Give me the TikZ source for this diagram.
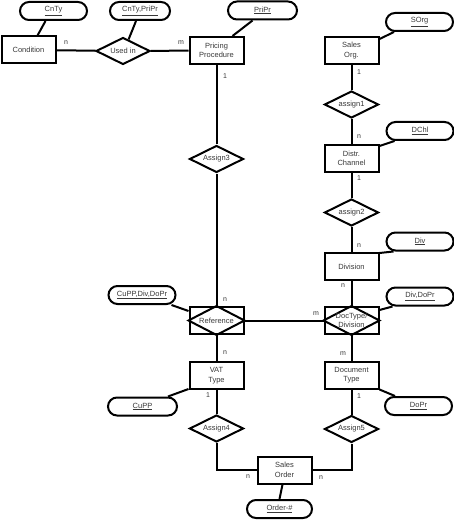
\documentclass[tikz,border=0pt]{standalone}
\usepackage{fontspec}
\setmainfont{Liberation Sans}
\usetikzlibrary{shapes.geometric,calc}
\colorlet{txt}{black!78}
\tikzset{
  every node/.style={text=txt, font=\fontsize{7.5}{9.5}\selectfont},
  conn/.style={line width=2pt, draw=black},
  entity/.style={draw=black, line width=2pt, minimum width=54pt, minimum height=27pt, inner sep=0pt, align=center},
  attr/.style={draw=black, line width=2pt, rounded corners=9pt, minimum width=67pt, minimum height=18pt, inner sep=0pt},
  rel/.style={diamond, draw=black, line width=2pt, minimum width=54pt, minimum height=27pt, inner sep=0pt, shape aspect=2},
  card/.style={font=\fontsize{7}{8}\selectfont, inner sep=0pt}
}
\begin{document}
\begin{tikzpicture}[x=1pt,y=-1pt]
\useasboundingbox (0,0) rectangle (454,521);
% entities
\node[entity] (cond) at (28.5,50) {Condition};
\node[entity] (pp) at (216.5,50.5) {Pricing\\Procedure};
\node[entity] (so) at (351.5,50.5) {Sales\\Org.};
\node[entity] (dc) at (351.5,158.5) {Distr.\\Channel};
\node[entity] (div) at (351.5,266.5) {Division};
\node[entity] (dtd) at (351.5,320.5) {};
\node[entity] (ref) at (216.5,320.5) {};
\node[entity] (dt) at (351.5,375) {Document\\Type};
\node[entity] (vat) at (216.5,375.5) {VAT\\Type};
\node[entity] (sorder) at (284.5,470) {Sales\\Order};
% diamonds inside boxes
\draw[conn] (ref.north) -- (ref.east) -- (ref.south) -- (ref.west) -- cycle;
\draw[conn] (dtd.north) -- (dtd.east) -- (dtd.south) -- (dtd.west) -- cycle;
\node[align=center, inner sep=0pt] (reft) at (ref.center) {Reference};
\node[align=center, inner sep=0pt] (dtdt) at (dtd.center) {DocType/\\Division};
% relationships
\node[rel] (usedin) at (123,51) {Used in};
\node[rel] (as1) at (351.5,104.5) {assign1};
\node[rel] (as2) at (351.5,212.5) {assign2};
\node[rel] (as3) at (216.5,159) {Assign3};
\node[rel] (as4) at (216.5,428.5) {Assign4};
\node[rel] (as5) at (351.5,429) {Assign5};
% attributes
\node[attr] (cnty) at (53.5,11) {\underline{CnTy}};
\node[attr, minimum width=60pt] (cnpr) at (140,11) {\underline{CnTy,PriPr}};
\node[attr, minimum width=69pt] (pripr) at (262.5,10.5) {\underline{PriPr}};
\node[attr] (sorg) at (419.5,22) {\underline{SOrg}};
\node[attr] (dchl) at (420,131) {\underline{DChl}};
\node[attr] (divk) at (420,241.5) {\underline{Div}};
\node[attr] (divdopr) at (420,296.5) {\underline{Div,DoPr}};
\node[attr] (cdd) at (142,295) {\underline{CuPP,Div,DoPr}};
\node[attr, minimum width=69pt] (cupp) at (142.5,406.5) {\underline{CuPP}};
\node[attr] (dopr) at (418.5,406) {\underline{DoPr}};
\node[attr, minimum width=65pt] (ordno) at (279.5,509) {\underline{Order-\#}};
% relationship connectors
\draw[conn] (cond) -- (usedin);
\draw[conn] (usedin) -- (pp);
\draw[conn] (pp) -- (as3);
\draw[conn] (as3) -- (ref);
\draw[conn] (so) -- (as1);
\draw[conn] (as1) -- (dc);
\draw[conn] (dc) -- (as2);
\draw[conn] (as2) -- (div);
\draw[conn] (div) -- (dtd);
\draw[conn] (ref) -- (dtd);
\draw[conn] (ref) -- (vat);
\draw[conn] (dtd) -- (dt);
\draw[conn] (vat) -- (as4);
\draw[conn] (dt) -- (as5);
\draw[conn] (as4.south) |- (sorder.west);
\draw[conn] (as5.south) |- (sorder.east);
% attribute connectors
\draw[conn] ([xshift=9pt]cond.north) -- ([xshift=-8pt]cnty.south);
\draw[conn] ($(usedin.north)!0.2!(usedin.east)$) -- ([xshift=-4pt]cnpr.south);
\draw[conn] ([xshift=16pt]pp.north) -- ([xshift=-10pt]pripr.south);
\draw[conn] ([yshift=-3pt]so.north east) -- ([xshift=9pt]sorg.south west);
\draw[conn] ([yshift=-2pt]dc.north east) -- ([xshift=9pt]dchl.south west);
\draw[conn] ([yshift=-1pt]div.north east) -- ([xshift=8pt]divk.south west);
\draw[conn] ([yshift=-4pt]dtd.north east) -- ([xshift=7pt]divdopr.south west);
\draw[conn] ([xshift=-5pt]cdd.south east) -- ([yshift=-5pt]ref.north west);
\draw[conn] ([yshift=1pt]vat.south west) -- ([xshift=-10pt]cupp.north east);
\draw[conn] (dt.south east) -- ([xshift=11pt]dopr.north west);
\draw[conn] ([xshift=-2pt]sorder.south) -- (ordno.north);
% cardinalities
\node[card] (c1) at (66,43) {n};
\node[card] (c2) at (181,43) {m};
\node[card] (c3) at (225,76) {1};
\node[card] (c4) at (359,72) {1};
\node[card] (c5) at (359,137) {n};
\node[card] (c6) at (359,178) {1};
\node[card] (c7) at (359,246) {n};
\node[card] (c8) at (343,286) {n};
\node[card] (c9) at (316,314) {m};
\node[card] (c10) at (343,354) {m};
\node[card] (c11) at (359,396) {1};
\node[card] (c12) at (225,300) {n};
\node[card] (c13) at (225,353) {n};
\node[card] (c14) at (208,395) {1};
\node[card] (c15) at (248,477) {n};
\node[card] (c16) at (321,478) {n};
\end{tikzpicture}
\end{document}
